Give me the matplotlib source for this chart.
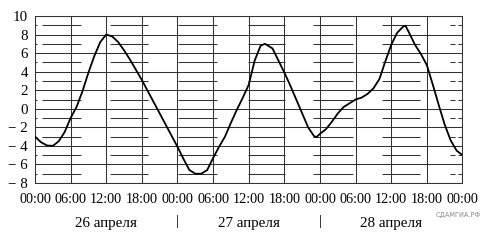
import matplotlib
matplotlib.use("Agg")
import matplotlib.pyplot as plt
import matplotlib.transforms as mtransforms

# ---- data (hours since 26 April 00:00, temperature) ----
hours = [0, 1, 2, 3, 4, 5, 6, 7, 8, 9, 10, 11, 12, 13, 14, 15, 16, 17, 18,
         19, 20, 21, 22, 23, 24, 25, 26, 27, 28, 29, 30, 31, 32, 33, 34, 35,
         36, 37, 38, 38.7, 39, 40, 41, 42, 43, 44, 45, 46, 47, 47.4, 48, 49,
         50, 51, 52, 53, 54, 55, 56, 57, 58, 59, 60, 61, 62, 62.4, 63, 64,
         65, 66, 67, 68, 69, 70, 71, 72]
temps = [-3.0, -3.6, -3.95, -4.0, -3.5, -2.5, -1.0, 0.2, 1.9, 3.9, 5.7, 7.2,
         8.0, 7.8, 7.2, 6.3, 5.3, 4.2, 3.1, 1.9, 0.7, -0.5, -1.7, -2.9, -4.1,
         -5.4, -6.6, -7.0, -7.0, -6.6, -5.3, -4.1, -3.0, -1.5, -0.1, 1.2,
         2.6, 5.2, 6.8, 7.0, 6.9, 6.5, 5.2, 3.9, 2.5, 1.0, -0.5, -2.0, -2.95,
         -3.05, -2.7, -2.2, -1.4, -0.5, 0.2, 0.6, 1.0, 1.2, 1.6, 2.2, 3.2,
         5.1, 6.9, 8.2, 8.85, 8.95, 8.2, 6.9, 5.9, 4.7, 2.6, 0.4, -1.7, -3.4,
         -4.5, -5.0]

xtick_hours = [0, 6, 12, 18, 24, 30, 36, 42, 48, 54, 60, 66, 72]
xtick_labels = ["00:00", "06:00", "12:00", "18:00"] * 3 + ["00:00"]
ytick_values = [10, 8, 6, 4, 2, 0, -2, -4, -6, -8]
ytick_labels = ["10", "8", "6", "4", "2", "0", "\u2212 2", "\u2212 4", "\u2212 6", "\u2212 8"]
minor_values = [9, 7, 5, 3, 1, -1, -3, -5, -7]
date_labels = ["26 апреля", "27 апреля", "28 апреля"]
date_centers = [12, 36, 60]
separator_hours = [24, 48]

# style: broken minor grid segments (in hours)
minor_segments = [(0, 0.35), (1.2, 7.75), (12.6, 19.0), (24.1, 30.6),
                  (35.9, 42.1), (46.8, 53.5), (58.4, 64.8), (69.9, 70.7),
                  (71.2, 72)]

plt.rcParams['font.family'] = ['Liberation Serif', 'DejaVu Serif']

fig = plt.figure(figsize=(4.82, 2.43), dpi=100)
ax = fig.add_axes([35 / 482, 1 - 183 / 243, (462.5 - 35) / 482, (183 - 16) / 243])

gridc = '#333333'
for v in ytick_values:
    ax.axhline(v, color=gridc, lw=0.75, zorder=1)
for h in xtick_hours:
    ax.axvline(h, color=gridc, lw=0.75, zorder=1)
for v in minor_values:
    for a, b in minor_segments:
        ax.plot([a, b], [v, v], color=gridc, lw=0.75, zorder=1,
                solid_capstyle='butt')

ax.plot(hours, temps, color='black', lw=1.3, zorder=3,
        solid_joinstyle='round')

ax.set_xlim(0, 72)
ax.set_ylim(-8, 10)
for s in ax.spines.values():
    s.set_color(gridc)
    s.set_linewidth(0.75)

fs = 10.3
ax.set_xticks(xtick_hours)
ax.set_xticklabels(xtick_labels, fontsize=fs)
ax.set_yticks(ytick_values)
ax.set_yticklabels(ytick_labels, fontsize=10.8)
ax.tick_params(axis='both', length=0)
ax.tick_params(axis='x', pad=7)
ax.tick_params(axis='y', pad=5)

trans = mtransforms.blended_transform_factory(ax.transData, fig.transFigure)
for c, lab in zip(date_centers, date_labels):
    ax.text(c, 1 - 223 / 243, lab, transform=trans, ha='center', va='center',
            fontsize=10.8, clip_on=False)
for h in separator_hours:
    ax.text(h, 1 - 222 / 243, "|", transform=trans, ha='center', va='center',
            fontsize=10.8, clip_on=False)

fig.text(458 / 482, 1 - 215 / 243, "СДАМГИА.РФ", ha='center', va='center',
         fontsize=4.8, color='#8a8a8a', family='DejaVu Sans')

fig.savefig("out.png", dpi=100)
